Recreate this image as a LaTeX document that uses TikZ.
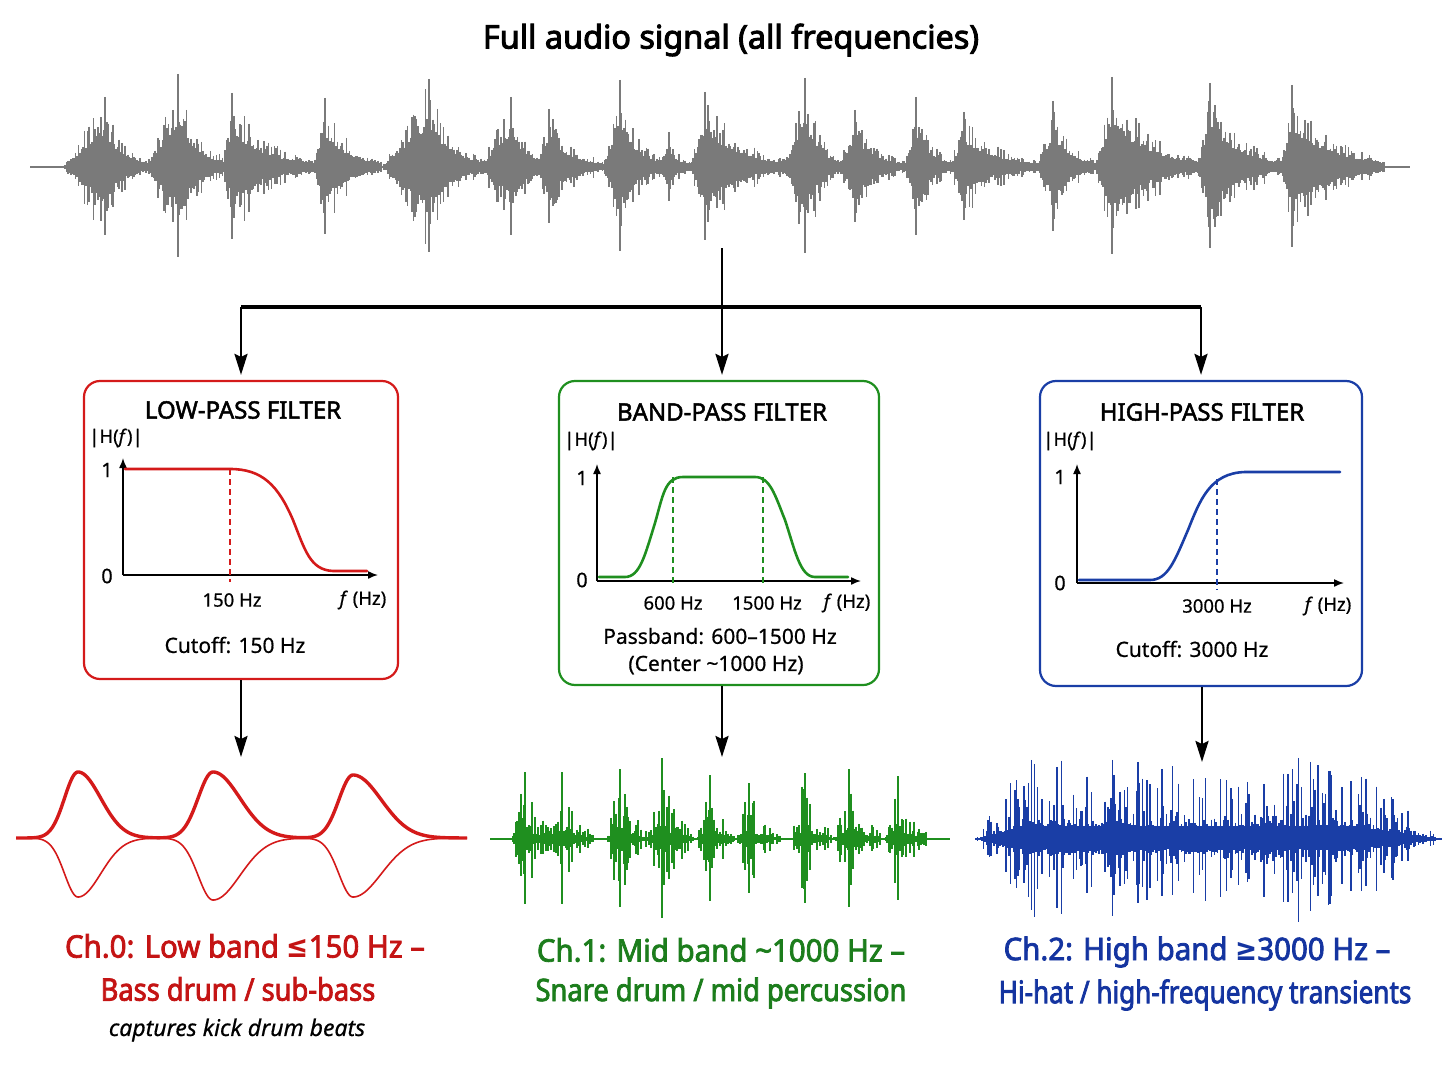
\documentclass[tikz,border=0pt]{standalone}
\usepackage{fontspec}
\setmainfont{Noto Sans}[FakeBold=0.6]
\newfontfamily\titf{Noto Sans}[FakeBold=3]
\newfontfamily\semib{Noto Sans}[FakeBold=2]
\newfontfamily\laba{Noto Sans}[FakeBold=2.5,FakeStretch=0.95]
\newfontfamily\labb{Noto Sans}[FakeBold=2.5,FakeStretch=0.88]
\newfontfamily\symf{DejaVu Sans}[FakeStretch=0.85]
\usetikzlibrary{arrows.meta}
\definecolor{cred}{HTML}{D41A1A}
\definecolor{credt}{HTML}{C41414}
\definecolor{cgreen}{HTML}{1F8F1F}
\definecolor{cgreent}{HTML}{1C7D1C}
\definecolor{cblue}{HTML}{1A3EA6}
\definecolor{cbluet}{HTML}{1434A0}
\definecolor{cgray}{HTML}{7A7A7A}
% #1 base y, #2 start, #3 peak, #4 end, #5 amplitude, #6 colour, #7 step, #8 core
\newcommand{\wburst}[8]{%
  \draw[#6, line width=#7*1.15pt] (#3,{#1-#5}) -- (#3,{#1+#5*0.97});
  \pgfmathsetmacro\xsec{#2+#7}%
  \foreach \x in {#2,\xsec,...,#4}{%
    \pgfmathsetmacro\wt{abs((\x-#2)/(#3-#2))}%
    \pgfmathsetmacro\env{(\x<#3)*#5*\wt+(\x>=#3)*#5*exp(-min(20,2.2*(\x-#3)/(#4-#3)))}%
    \pgfmathsetmacro\r{rnd}%
    \pgfmathsetmacro\f{#8+(1-#8)*\r*\r}%
    \pgfmathsetmacro\ya{#1-\env*\f}%
    \pgfmathsetmacro\yb{#1+\env*\f*(0.8+0.3*rnd)}%
    \draw[#6, line width=#7*1.15pt] (\x,\ya) -- (\x,\yb);
  }}
\tikzset{
  declare function={ww(\x,\p,\a,\b)=(\x<\p)*\a+(\x>=\p)*\b;
    pu(\x,\p,\a,\b)=exp(-min(30,((\x-\p)/ww(\x,\p,\a,\b))*((\x-\p)/ww(\x,\p,\a,\b))));},
  box/.style={draw, line width=2.2pt, rounded corners=16pt, minimum width=#1, inner sep=0pt},
  ftitle/.style={font=\semib\fontsize{24}{27}\selectfont, inner sep=0pt},
  ax/.style={font=\fontsize{18.5}{22}\selectfont, inner sep=0pt},
  num/.style={font=\fontsize{20}{24}\selectfont, inner sep=0pt},
  captxt/.style={font=\fontsize{21}{25}\selectfont, inner sep=0pt},
  laba/.style={font=\laba\fontsize{31}{36}\selectfont, inner sep=0pt},
  labb/.style={font=\labb\fontsize{31}{36}\selectfont, inner sep=0pt},
  axis/.style={line width=1.5pt, -{Latex[length=10pt,width=8pt]}},
  dsh/.style={line width=1.4pt, dash pattern=on 6pt off 4pt},
  resp/.style={line width=2.6pt, line cap=round, line join=round},
  conn/.style={line width=2.6pt, black},
  arr/.style={conn, -{Stealth[length=21pt,width=13pt,inset=3pt]}},
}
\begin{document}
\begin{tikzpicture}[x=1pt,y=-1pt]
\useasboundingbox (0,0) rectangle (1448,1086);
\pgfmathsetseed{7}

% ---------- title ----------
\node[font=\titf\fontsize{32.4}{38}\selectfont, inner sep=0pt] (title) at (731,40) {Full audio signal (all frequencies)};

% ---------- full waveform ----------
\draw[cgray, line width=2pt] (30,167) -- (1410,167);
\wburst{167}{62}{105}{150}{70}{cgray}{1.5}{0.45}
\wburst{167}{146}{178}{224}{93}{cgray}{1.5}{0.45}
\wburst{167}{222}{232}{312}{74}{cgray}{1.5}{0.45}
\wburst{167}{312}{325}{382}{69}{cgray}{1.5}{0.45}
\wburst{167}{382}{429}{482}{88}{cgray}{1.5}{0.45}
\wburst{167}{480}{511}{548}{70}{cgray}{1.5}{0.45}
\wburst{167}{535}{549}{604}{58}{cgray}{1.5}{0.45}
\wburst{167}{603}{620}{660}{87}{cgray}{1.5}{0.45}
\wburst{167}{655}{669}{692}{35}{cgray}{1.5}{0.45}
\wburst{167}{690}{705}{786}{75}{cgray}{1.5}{0.45}
\wburst{167}{784}{805}{840}{89}{cgray}{1.5}{0.45}
\wburst{167}{838}{855}{906}{57}{cgray}{1.5}{0.45}
\wburst{167}{904}{916}{952}{70}{cgray}{1.5}{0.45}
\wburst{167}{950}{964}{1040}{55}{cgray}{1.5}{0.45}
\wburst{167}{1038}{1053}{1095}{66}{cgray}{1.5}{0.45}
\wburst{167}{1094}{1112}{1198}{90}{cgray}{1.5}{0.45}
\wburst{167}{1197}{1210}{1282}{84}{cgray}{1.5}{0.45}
\wburst{167}{1281}{1292}{1385}{82}{cgray}{1.5}{0.45}
\coordinate (wbot) at (722,248);
\coordinate (junc) at (722,307);

% ---------- filter boxes ----------
\node[box=314pt, draw=cred, minimum height=298pt] (lp) at (241,530) {};
\node[box=320pt, draw=cgreen, minimum height=304pt] (bp) at (719,533) {};
\node[box=322pt, draw=cblue, minimum height=305pt] (hp) at (1201,533.5) {};

% connectors from the full signal
\draw[conn, line width=3.4pt] (lp.north |- junc) -- (hp.north |- junc);
\draw[arr] (wbot) -- ([yshift=5pt]bp.north -| wbot);
\draw[arr] (lp.north |- junc) -- ([yshift=5pt]lp.north);
\draw[arr] (hp.north |- junc) -- ([yshift=5pt]hp.north);

% ---------- low-pass ----------
\node[ftitle] (lpt) at (243,410) {LOW-PASS FILTER};
\node[ax] (lph) at (116,438) {|H(\textit{f})|};
\node[num] (lp1) at (107,470) {1};
\node[num] (lp0) at (107,576) {0};
\draw[axis] (123,575) -- (123,458);
\draw[axis] (123,575) -- (378,575);
\draw[cred, dsh] (230,469) -- (230,582);
\draw[cred, resp] (125,469) -- (230,469) .. controls (262,469) and (278,485) .. (293,520) .. controls (305,550) and (310,570) .. (333,571) -- (367,571);
\node[ax] (lpf) at (232,600) {150 Hz};
\node[ax] (lpx) at (363,600) {\textit{f} (Hz)};
\node[captxt] (lpc) at (235,645) {Cutoff: 150 Hz};

% ---------- band-pass ----------
\node[ftitle] (bpt) at (722,412) {BAND-PASS FILTER};
\node[ax] (bph) at (591,441) {|H(\textit{f})|};
\node[num] (bp1) at (582,478) {1};
\node[num] (bp0) at (582,580) {0};
\draw[axis] (597,581) -- (597,464);
\draw[axis] (597,581) -- (861,581);
\draw[cgreen, dsh] (673,477) -- (673,586);
\draw[cgreen, dsh] (763,477) -- (763,586);
\draw[cgreen, resp] (599,577) -- (625,577) .. controls (640,577) and (645,555) .. (655,523) .. controls (663,495) and (665,477) .. (683,477) -- (755,477) .. controls (770,477) and (775,495) .. (785,520) .. controls (795,550) and (800,577) .. (815,577) -- (848,577);
\node[ax] (bpa) at (673,603) {600 Hz};
\node[ax] (bpb) at (767,603) {1500 Hz};
\node[ax] (bpx) at (847,603) {\textit{f} (Hz)};
\node[captxt] (bpc) at (720,636) {Passband: 600–1500 Hz};
\node[captxt] (bpd) at (716,665) {(Center \textasciitilde1000 Hz)};

% ---------- high-pass ----------
\node[ftitle] (hpt) at (1202,412) {HIGH-PASS FILTER};
\node[ax] (hph) at (1070,441) {|H(\textit{f})|};
\node[num] (hp1) at (1060,477) {1};
\node[num] (hp0) at (1060,583) {0};
\draw[axis] (1077,583) -- (1077,464);
\draw[axis] (1077,583) -- (1344,583);
\draw[cblue, dsh] (1217,479) -- (1217,590);
\draw[cblue, resp] (1079,580) -- (1150,580) .. controls (1168,580) and (1175,560) .. (1188,530) .. controls (1200,500) and (1210,473) .. (1245,472) -- (1340,472);
\node[ax] (hpa) at (1217,606) {3000 Hz};
\node[ax] (hpx) at (1328,606) {\textit{f} (Hz)};
\node[captxt] (hpc) at (1192,649) {Cutoff: 3000 Hz};

% ---------- outputs ----------
\coordinate (lpout) at (241,757);
\coordinate (bpout) at (722,757);
\coordinate (hpout) at (1202,762);
\draw[arr] (lp.south -| lpout) -- (lpout);
\draw[arr] (bp.south -| bpout) -- (bpout);
\draw[arr] (hp.south -| hpout) -- (hpout);

% low band pulses
\draw[cred, line width=3.4pt, line join=round] plot[domain=16:467, samples=452] (\x, {838-66*pu(\x,78,19,32)-66*pu(\x,213,21,38)-63*pu(\x,353,20,40)});
\draw[cred, line width=1.6pt, line join=round] plot[domain=16:467, samples=452] (\x, {838+59*pu(\x,78,19,32)+62*pu(\x,213,21,38)+59*pu(\x,353,20,40)});

% mid band bursts
\draw[cgreen, line width=2pt] (490,839) -- (950,839);
\wburst{839}{511}{525}{557}{67}{cgreen}{1.6}{0.14}
\wburst{839}{548}{562}{594}{67}{cgreen}{1.6}{0.14}
\wburst{839}{606}{620}{652}{70}{cgreen}{1.6}{0.14}
\wburst{839}{648}{662}{694}{81}{cgreen}{1.6}{0.14}
\wburst{839}{696}{710}{742}{64}{cgreen}{1.6}{0.14}
\wburst{839}{735}{749}{781}{56}{cgreen}{1.6}{0.14}
\wburst{839}{791}{805}{837}{66}{cgreen}{1.6}{0.14}
\wburst{839}{835}{849}{881}{70}{cgreen}{1.6}{0.14}
\wburst{839}{884}{898}{930}{63}{cgreen}{1.6}{0.14}

% high band texture
\draw[cblue, line width=2pt] (975,839) -- (1442,839);
\foreach \x in {976,977.5,...,1441}{%
  \pgfmathsetmacro\env{82*min(1,min((\x-975)/50,(1442-\x)/90))}%
  \pgfmathsetmacro\r{rnd}%
  \pgfmathsetmacro\f{0.16+0.84*\r*\r*\r}%
  \pgfmathsetmacro\ya{839-\env*\f}%
  \pgfmathsetmacro\yb{839+\env*\f*(0.75+0.3*rnd)}%
  \draw[cblue, line width=1.6pt] (\x,\ya) -- (\x,\yb);
}

% ---------- channel labels ----------
\node[laba, text=credt] (l0a) at (245,946) {Ch.0: Low band {\symf\bfseries ≤}150 Hz –};
\node[labb, text=credt] (l0b) at (238,989) {Bass drum / sub-bass};
\node[font=\itshape\fontsize{23}{27}\selectfont, inner sep=0pt] (l0c) at (237,1030) {captures kick drum beats};
\node[laba, text=cgreent] (l1a) at (721,950) {Ch.1: Mid band \textasciitilde1000 Hz –};
\node[labb, text=cgreent] (l1b) at (721,993) {Snare drum / mid percussion};
\node[laba, text=cbluet] (l2a) at (1197,952) {Ch.2: High band {\symf\bfseries ≥}3000 Hz –};
\node[labb, text=cbluet] (l2b) at (1205,995) {\scalebox{0.955}[1]{Hi-hat / high-frequency transients}};
\end{tikzpicture}
\end{document}
